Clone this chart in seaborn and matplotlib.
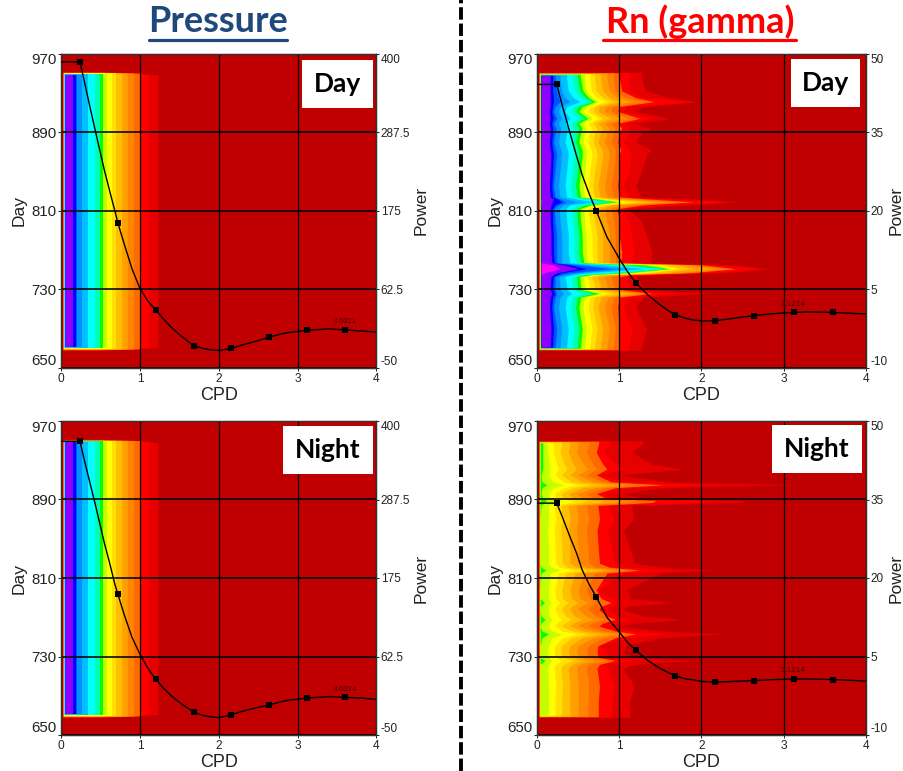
import numpy as np
import matplotlib
matplotlib.use("Agg")
import matplotlib.pyplot as plt
from matplotlib.lines import Line2D
from matplotlib.patches import Rectangle
import seaborn as sns

# ---- colours of the contour levels, outermost (weak) to innermost (strong)
LEVEL_COLOURS = ["#E60000", "#FF0000", "#FF6A00", "#FF8400", "#FFA000", "#FFC000",
                 "#FFE000", "#FFFF00", "#C4FF00", "#00FF00", "#00FFB4", "#00FFFF",
                 "#00BFFF", "#0090FF", "#0050FF", "#0000FF", "#9000FF", "#FF00FF"]
BACKGROUND = "#C00000"
# rim of the map: left edge in CPD and inset in days, per level
RIM_LEFT = [.018, .021, .024, .027, .029, .031, .033, .035, .037, .039, .041, .043,
            .045, .046, .047, .048, .05, .05]
RIM_INSET = [0, .3, .6, .9, 1.1, 1.3, 1.5, 1.7, 1.9, 2.1, 2.3, 2.5, 2.7, 2.9, 3.1, 3.2, 3.4, 3.4]

# ---- Pressure map (same for day and night)
PRESSURE_DAYS = [951.5, 950, 948, 671, 669.5, 668]
PRESSURE_FULL = [1.23, 1.11, 1.0, .92, .84, .77, .70, .65, .58, .535, .49, .43, .34, .26, .2, .19, .157, 0]
PRESSURE_MID = [1.0, 1.0, 1.0, .92, .84, .77, .70, .65, .58, .535, .49, .43, .34, .26, .2, .19, .157, 0]
PRESSURE_TOP = [.5, .5, .5, .5, .5, .5, .5, .5, .5, .5, .49, .43, .34, .26, .2, .19, .157, 0]
PRESSURE_EDGES = [PRESSURE_TOP, PRESSURE_MID, PRESSURE_FULL, PRESSURE_FULL, PRESSURE_MID, PRESSURE_TOP]

# ---- Rn day map: right edge of every level at the listed days
RA = [1.27, 1.12, 1.0, .93, .85, .77, .70, .64, .58, .53, .49, .43, .36, .28, .22, .19, .16, 0]
RB = [1.2, 1.05, .98, .9, .82, .74, .68, .62, .56, .51, .47, .41, .34, .26, .2, .18, .15, 0]
RC = [1.33, 1.15, 1.0, .95, .88, .8, .73, .67, .6, .55, .51, .45, .38, .3, .24, .2, .17, 0]
RN_DAY_DAYS = [951, 945, 932, 925, 921, 916, 911, 904, 899, 894, 889, 880, 872, 867, 850, 835,
               824, 822, 819, 816, 812, 800, 785, 768, 757, 755, 751, 747, 745, 743, 735, 730, 726,
               722, 712, 690, 671, 668]
RN_DAY_EDGES = [
    RA, RA,
    [1.32, 1.12, 1.03, .95, .88, .8, .72, .66, .6, .56, .52, .46, .38, .3, .24, .19, .16, 0],
    [1.6, 1.3, 1.2, 1.08, .98, .88, .8, .73, .67, .63, .59, .53, .44, .34, .26, .2, .16, 0],
    [1.95, 1.9, 1.42, 1.3, 1.15, 1.0, .92, .84, .74, .71, .67, .62, .52, .4, .28, .2, .16, 0],
    [1.3, 1.1, 1.0, .92, .84, .76, .7, .65, .6, .55, .5, .44, .36, .28, .22, .19, .16, 0],
    RB,
    [1.62, 1.4, 1.25, 1.12, 1.02, .9, .8, .74, .68, .62, .58, .5, .4, .3, .24, .2, .16, 0],
    RB,
    [1.38, 1.12, 1.03, .95, .88, .8, .73, .67, .6, .55, .51, .44, .37, .29, .23, .19, .16, 0],
    RA, RB,
    [1.39, 1.12, 1.02, .95, .87, .79, .72, .66, .6, .55, .5, .44, .37, .29, .23, .19, .16, 0],
    RC, RA, RB, RA,
    [1.9, 1.6, 1.35, 1.2, 1.08, .98, .9, .84, .78, .72, .66, .58, .48, .36, .28, .25, .2, .05],
    [2.43, 2.35, 1.9, 1.7, 1.55, 1.4, 1.25, 1.1, 1.03, .98, .92, .82, .7, .5, .35, .3, .18, .06],
    [1.9, 1.55, 1.3, 1.15, 1.02, .92, .84, .78, .7, .65, .58, .5, .4, .32, .26, .22, .17, 0],
    [1.1, 1.02, .97, .9, .82, .74, .68, .62, .57, .52, .48, .42, .35, .27, .21, .19, .16, 0],
    RA, RC,
    [1.4, 1.18, 1.03, .95, .88, .8, .73, .67, .6, .55, .51, .45, .38, .3, .24, .2, .17, 0],
    [1.38, 1.14, 1.02, .96, .88, .8, .74, .68, .62, .57, .53, .47, .4, .3, .24, .21, .18, 0],
    [2.4, 2.2, 2.0, 1.9, 1.8, 1.7, 1.6, 1.5, 1.45, 1.3, 1.1, .95, .8, .6, .5, .4, .32, .2],
    [2.83, 2.7, 2.41, 2.3, 2.15, 1.9, 1.75, 1.7, 1.65, 1.6, 1.58, 1.5, 1.3, 1.1, .9, .6, .5, .28],
    [2.3, 2.1, 1.9, 1.8, 1.7, 1.55, 1.4, 1.3, 1.2, 1.1, 1.0, .85, .65, .5, .42, .3, .25, .1],
    [1.5, 1.3, 1.15, 1.05, .98, .9, .82, .75, .7, .66, .6, .54, .44, .36, .3, .25, .2, .04],
    [1.2, 1.05, 1.0, .9, .82, .73, .66, .61, .56, .52, .48, .42, .34, .27, .22, .2, .17, 0],
    RA, RA,
    [2.12, 1.7, 1.4, 1.3, 1.2, 1.1, .95, .85, .8, .75, .68, .55, .42, .32, .24, .22, .18, 0],
    [1.3, 1.12, 1.0, .94, .86, .78, .7, .64, .58, .53, .49, .43, .36, .28, .22, .19, .16, 0],
    RB, RC, RA, RA,
]

# ---- Rn night map
NA = [1.13, .91, .745, .62, .5, .4, .3, .22, .14, .04]
NB = [1.05, .86, .73, .6, .48, .38, .29, .21, .13, .04]
NC = [1.18, .94, .76, .63, .5, .4, .31, .23, .14, .04]
RN_NIGHT_DAYS = [950, 947, 938, 926, 921, 915, 908, 905, 902, 896, 891, 889, 887, 884, 870, 859,
                 840, 825, 821, 818, 815, 798, 789, 785, 781, 778, 771, 768, 764, 761, 756, 753,
                 749, 741, 733, 729, 726, 722, 718, 700, 685, 670, 668]
RN_NIGHT_EDGES = [
    [1.29, .89, .75, .63, .5, .4, .3, .2, .12, .07],
    [1.29, .89, .75, .63, .5, .4, .3, .2, .12, .07],
    [1.15, .8, .72, .6, .48, .38, .28, .2, .13, .07],
    [1.4, .96, .8, .68, .56, .44, .33, .24, .15, .07],
    [1.78, 1.05, .85, .72, .62, .48, .36, .26, .16, .07],
    [1.0, .75, .72, .6, .5, .4, .3, .22, .14, .05],
    [1.6, 1.1, .9, .8, .68, .55, .42, .32, .2, .06],
    [3.16, 2.16, 1.53, 1.2, 1.05, .85, .65, .5, .32, .12],
    [1.5, 1.1, .95, .82, .7, .56, .44, .33, .2, .06],
    [1.05, .8, .72, .6, .48, .38, .29, .21, .14, .05],
    [1.3, 1.0, .85, .7, .56, .44, .33, .25, .15, .07],
    [2.5, 2.14, 1.45, 1.2, 1.0, .8, .6, .44, .3, .12],
    [2.5, 2.0, 1.4, 1.1, .95, .75, .55, .4, .26, .09],
    [1.15, .85, .74, .6, .48, .38, .29, .21, .14, .05],
    NC, NB, NA, NC,
    [1.5, 1.08, .88, .72, .6, .48, .36, .27, .17, .05],
    [2.15, 1.7, 1.25, 1.1, .95, .8, .62, .45, .28, .11],
    [1.5, 1.05, .85, .7, .58, .46, .35, .26, .16, .05],
    [1.09, .75, .72, .6, .5, .4, .3, .22, .14, .04],
    [1.15, .92, .78, .64, .52, .42, .31, .23, .14, .04],
    [1.66, 1.0, .9, .72, .62, .5, .38, .28, .17, .09],
    [1.1, .88, .78, .64, .52, .42, .32, .23, .14, .04],
    [1.05, .85, .75, .62, .5, .4, .3, .22, .14, .04],
    [1.3, .98, .85, .72, .6, .46, .35, .26, .15, .05],
    [1.78, 1.13, .95, .82, .7, .55, .42, .3, .18, .1],
    [1.2, .95, .8, .66, .54, .44, .33, .24, .15, .05],
    [1.0, .85, .75, .62, .5, .4, .3, .22, .14, .04],
    [1.5, 1.15, .95, .8, .68, .55, .42, .3, .18, .06],
    [2.25, 1.6, 1.2, 1.08, .95, .78, .62, .48, .3, .14],
    [1.5, 1.1, .95, .8, .68, .55, .42, .31, .18, .06],
    [1.08, .76, .74, .62, .5, .4, .3, .22, .14, .04],
    NB,
    [1.2, .8, .75, .63, .52, .42, .32, .23, .14, .04],
    [1.94, 1.2, .95, .85, .7, .58, .45, .3, .18, .1],
    [1.2, .85, .76, .63, .52, .42, .32, .23, .14, .04],
    NB, NC, NA, NA, NA,
]

# ---- periodogram curves, CPD and power
PRESSURE_X = [0, .24, .3, .37, .44, .55, .62, .685, .72, .8, .9, 1.0, 1.1, 1.2, 1.3, 1.4, 1.5, 1.6,
              1.68, 1.8, 1.9, 2.0, 2.16, 2.3, 2.4, 2.64, 2.8, 2.9, 3.12, 3.4, 3.6, 3.8, 4.0]
PRESSURE_DAY_Y = [388, 388, 358, 322, 287, 233, 202, 174, 158, 128, 92, 64, 46, 33, 20, 8, -2, -11,
                  -18, -22, -24, -25, -22, -17, -14, -6, -1, 1, 4, 6, 4.5, 3, 1.5]
PRESSURE_NIGHT_Y = [371, 371, 342, 310, 278, 225, 195, 165, 152, 123, 90, 66, 46, 30, 17, 6, -3, -11,
                    -17, -22, -24, -25, -21, -16, -13, -7, -2, 0, 3, 5, 4, 3, 1]
RN_X = [0, .24, .3, .4, .48, .55, .64, .72, .85, 1.0, 1.1, 1.2, 1.35, 1.5, 1.6, 1.68, 1.8, 1.9,
        2.0, 2.16, 2.4, 2.64, 2.9, 3.12, 3.3, 3.6, 4.0]
RN_DAY_Y = [44.1, 44.1, 40.5, 34.9, 30.5, 26.8, 23, 20, 15, 10.9, 8.4, 6.3, 3.9, 2, .9, .2, -.5, -.85,
            -1, -1, -.5, 0, .4, .6, .7, .6, .3]
RN_NIGHT_Y = [34.3, 34.3, 32, 27.9, 24.8, 21.5, 18.6, 16.4, 12.5, 9.7, 7.7, 6.2, 4.2, 2.7, 1.9, 1.3, .75, .5,
              .25, .1, .25, .4, .6, .7, .7, .6, .3]
MARKER_X = [.24, .72, 1.2, 1.68, 2.16, 2.64, 3.12, 3.6]
PRESSURE_DAY_MARKS = [388, 158, 33, -18, -22, -6, 4, 4.5]
PRESSURE_NIGHT_MARKS = [371, 152, 30, -17, -21, -7, 3, 4]
RN_DAY_MARKS = [44.1, 20, 6.3, .2, -1, 0, .6, .6]
RN_NIGHT_MARKS = [34.3, 16.4, 6.2, 1.3, .1, .4, .7, .6]

DAY_TICKS = [650, 730, 810, 890, 970]
CPD_TICKS = [0, 1, 2, 3, 4]
PRESSURE_POWER_TICKS = [-50, 62.5, 175, 287.5, 400]
RN_POWER_TICKS = [-10, 5, 20, 35, 50]

W, H = 904, 771
sns.set_theme(style="ticks")
plt.rcParams["font.family"] = ["Liberation Sans", "DejaVu Sans"]


def px_axes(fig, left, top, right, bottom):
    return fig.add_axes([left / W, 1 - bottom / H, (right - left) / W, (bottom - top) / H])


def draw_map(ax, days, edges):
    days = np.array(days, dtype=float)
    edges = np.array(edges, dtype=float)
    for k in range(edges.shape[1]):
        left = RIM_LEFT[k]
        right = np.maximum(edges[:, k], left)
        clipped = np.clip(days, days.min() + RIM_INSET[k], days.max() - RIM_INSET[k])
        ax.fill_betweenx(clipped, left, right, color=LEVEL_COLOURS[k], lw=0, zorder=1)


def panel(fig, box, days, edges, power_ticks, curve_x, curve_y, marks, peak, word, word_box, power_gap):
    left, top, right, bottom = box
    ax = px_axes(fig, *box)
    ax.set_facecolor(BACKGROUND)
    draw_map(ax, days, edges)
    ax.set_xlim(0, 4)
    ax.set_ylim(650, 970)
    ax.set_xticks(CPD_TICKS)
    ax.set_yticks(DAY_TICKS)
    ax.set_axisbelow(False)
    ax.grid(True, axis="y", color="black", lw=1.15)
    ax.grid(True, axis="x", color="black", lw=.9)
    ax.tick_params(axis="y", labelsize=10.8, length=2, width=.7, pad=1, colors="#222222")
    ax.tick_params(axis="x", labelsize=8.6, length=2, width=.7, pad=1.5, colors="#222222")
    ax.set_xlabel("CPD", fontsize=13, labelpad=1.5, color="#222222")
    ax.set_ylabel("Day", fontsize=12.5, color="#222222")
    ax.yaxis.set_label_coords(-34 / (right - left), .5)

    twin = ax.twinx()
    sns.lineplot(x=curve_x, y=curve_y, ax=twin, color="black", lw=1, sort=False, estimator=None,
                 legend=False, zorder=5)
    sns.scatterplot(x=MARKER_X, y=marks, ax=twin, marker="s", s=19, color="black", lw=0,
                    legend=False, zorder=6)
    twin.set_ylim(power_ticks[0], power_ticks[-1])
    twin.set_yticks(power_ticks)
    twin.set_yticklabels([f"{t:g}" for t in power_ticks])
    twin.tick_params(axis="y", labelsize=8.5, length=2, width=.7, pad=1, colors="#222222")
    twin.set_ylabel("Power", fontsize=12.5, color="#222222")
    twin.yaxis.set_label_coords(1 + power_gap / (right - left), .5)
    twin.text(peak[0], peak[1], peak[2], fontsize=5.8, color="#4a0000", ha="center", va="center")

    for axis in (ax, twin):
        labels = axis.get_yticklabels()
        labels[0].set_va("bottom")
        labels[-1].set_va("top")
        for spine in axis.spines.values():
            spine.set_linewidth(.9)
            spine.set_color("#333333")
            spine.set_visible(True)

    bl, bt, br, bb = word_box
    fig.add_artist(Rectangle((bl / W, 1 - bb / H), (br - bl) / W, (bb - bt) / H, facecolor="white",
                             edgecolor="none", transform=fig.transFigure, zorder=10))
    fig.text((bl + br) / 2 / W, 1 - (bt + bb) / 2 / H, word, fontsize=19, fontweight="bold",
             family="Lato", color="black", ha="center", va="center", zorder=11)


fig = plt.figure(figsize=(W / 100, H / 100), dpi=100)

panel(fig, (61, 53.5, 376.5, 368), PRESSURE_DAYS, PRESSURE_EDGES, PRESSURE_POWER_TICKS,
      PRESSURE_X, PRESSURE_DAY_Y, PRESSURE_DAY_MARKS, (3.6, 16.3, "3.6011"), "Day", (302, 60, 373, 108), 37)
panel(fig, (537, 53.5, 866, 368), RN_DAY_DAYS, RN_DAY_EDGES, RN_POWER_TICKS,
      RN_X, RN_DAY_Y, RN_DAY_MARKS, (3.11, 2.1, "3.1214"), "Day", (791, 59, 860, 107), 23)
panel(fig, (61, 421, 376.5, 735), PRESSURE_DAYS, PRESSURE_EDGES, PRESSURE_POWER_TICKS,
      PRESSURE_X, PRESSURE_NIGHT_Y, PRESSURE_NIGHT_MARKS, (3.6, 15.4, "3.6014"), "Night", (283, 426, 373, 474), 37)
panel(fig, (537, 421, 866, 735), RN_NIGHT_DAYS, RN_NIGHT_EDGES, RN_POWER_TICKS,
      RN_X, RN_NIGHT_Y, RN_NIGHT_MARKS, (3.11, 2.3, "3.1214"), "Night", (772, 425, 862, 473), 23)

# titles with hand drawn underline, as on the slide
for label, colour, cx, x0, x1 in [("Pressure", "#1F497D", 218, 149, 287),
                                  ("Rn (gamma)", "#FF0000", 700, 603, 796)]:
    fig.text(cx / W, 1 - 22 / H, label, fontsize=26, fontweight="bold", family="Lato",
             color=colour, ha="center", va="center")
    fig.add_artist(Line2D([x0 / W, x1 / W], [1 - 40 / H, 1 - 40 / H], color=colour, lw=2.3,
                          transform=fig.transFigure))

# dashed divider between the two columns
fig.add_artist(Line2D([461 / W, 461 / W], [0, 1], color="black", lw=2.8, ls=(0, (3.2, 1)),
                      transform=fig.transFigure))

fig.savefig("out.png", dpi=100)
